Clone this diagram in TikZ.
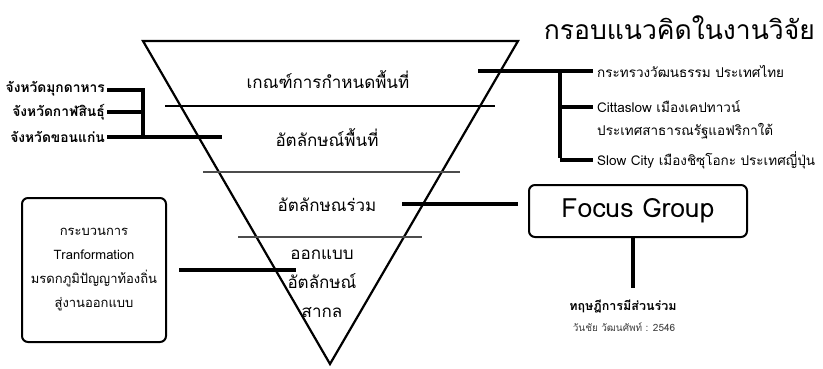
\documentclass[tikz,border=0pt]{standalone}
\usepackage{fontspec}
\setmainfont{Loma}[Script=Thai]
\usepackage{tikz}
\usetikzlibrary{calc,positioning}

\begin{document}
\begin{tikzpicture}[
  x=1pt, y=-1pt,
  edge/.style={line width=2.2pt, line join=miter},
  sep/.style={line width=1.1pt},
  link/.style={line width=3.6pt},
  lbl/.style={inner sep=0pt, font=\fontsize{17}{29}\selectfont, align=center},
  prov/.style={inner sep=0pt, anchor=east, font=\bfseries\fontsize{13.8}{15}\selectfont},
  item/.style={inner sep=0pt, anchor=west, font=\fontsize{13.5}{15}\selectfont},
  card/.style={draw, line width=2pt, rounded corners=6pt, align=center}
]
\useasboundingbox (0,0) rectangle (823,368);

% funnel
\coordinate (tl) at (143,41);
\coordinate (tr) at (518,41);
\coordinate (apex) at (330,364);
\draw[edge] (tl) -- (tr) -- (apex) -- cycle;
\draw[sep] (165,106) -- (495,106);
\draw[sep, black!70] (203,172) -- (460,172);
\draw[sep, black!70] (238,237) -- (422,237);

\node[lbl] (crit) at (328,80) {เกณฑ์การกำหนดพื้นที่};
\node[lbl] (local) at (327,138) {อัตลักษณ์พื้นที่};
\node[lbl] (common) at (327,205) {อัตลักษณร่วม};
\node[lbl] (design) at (322,284) {ออกแบบ\\อัตลักษณ์\\สากล};

% title
\node[inner sep=0pt, anchor=east, font=\fontsize{26.5}{30}\selectfont] (title) at (815,28) {กรอบแนวคิดในงานวิจัย};

% provinces
\node[prov] (muk) at (105,89) {จังหวัดมุกดาหาร};
\node[prov] (kal) at (105,112) {จังหวัดกาฬสินธุ์};
\node[prov] (khon) at (105,137) {จังหวัดขอนแก่น};
\coordinate (jl1) at (143,90);
\coordinate (jl2) at (143,112);
\coordinate (jl3) at (143,137);
\coordinate (jlend) at (222,137);
\draw[link] ([xshift=2pt]muk.east |- jl1) -- (jl1);
\draw[link] ([xshift=2pt]kal.east |- jl2) -- (jl2);
\draw[link] ([xshift=2pt]khon.east |- jl3) -- (jlend);
\draw[link] ([yshift=1.8pt]jl1) -- ([yshift=-1.8pt]jl3);

% references
\node[item] (moc) at (597,71) {กระทรวงวัฒนธรรม ประเทศไทย};
\node[item] (citta) at (597,107) {Cittaslow เมืองเคปทาวน์};
\node[item] (za) at (597,131) {ประเทศสาธารณรัฐแอฟริกาใต้};
\node[item] (slow) at (597,160) {Slow City เมืองชิซุโอกะ ประเทศญี่ปุ่น};
\coordinate (jrs) at (478,71);
\coordinate (jr1) at (560,71);
\coordinate (jr3) at (560,160);
\draw[link] (jrs) -- ([xshift=-4pt]moc.west);
\draw[link] ([yshift=-1.8pt]jr1) -- ([yshift=1.8pt]jr3);
\draw[link] (560,107) -- ([xshift=-4pt]citta.west);
\draw[link] (jr3) -- ([xshift=-4pt]slow.west);

% focus group
\node[card, minimum width=218pt, minimum height=52pt, font=\fontsize{26.5}{28}\selectfont] (focus) at (638,211) {Focus Group};
\coordinate (fgs) at (402,204);
\coordinate (fge) at (518,204);
\draw[link] (fgs) -- (fge);
\draw[link] ([xshift=-5pt]focus.south) -- ++(0,50) coordinate (fgd);
\node[inner sep=0pt, font=\bfseries\fontsize{12.5}{15}\selectfont] (theory) at (623,307) {ทฤษฎีการมีส่วนร่วม};
\node[inner sep=0pt, font=\fontsize{10}{11}\selectfont, text=black!75] (src) at (624,327) {วันชัย วัฒนศัพท์ : 2546};

% process box
\node[card, minimum width=144pt, minimum height=144pt, font=\fontsize{13}{24}\selectfont] (proc) at (94,270) {กระบวนการ\\Tranformation\\มรดกภูมิปัญญาท้องถิ่น\\สู่งานออกแบบ};
\coordinate (pe) at (296,270);
\draw[link] ([xshift=12pt]proc.east) -- (pe);
\end{tikzpicture}
\end{document}
